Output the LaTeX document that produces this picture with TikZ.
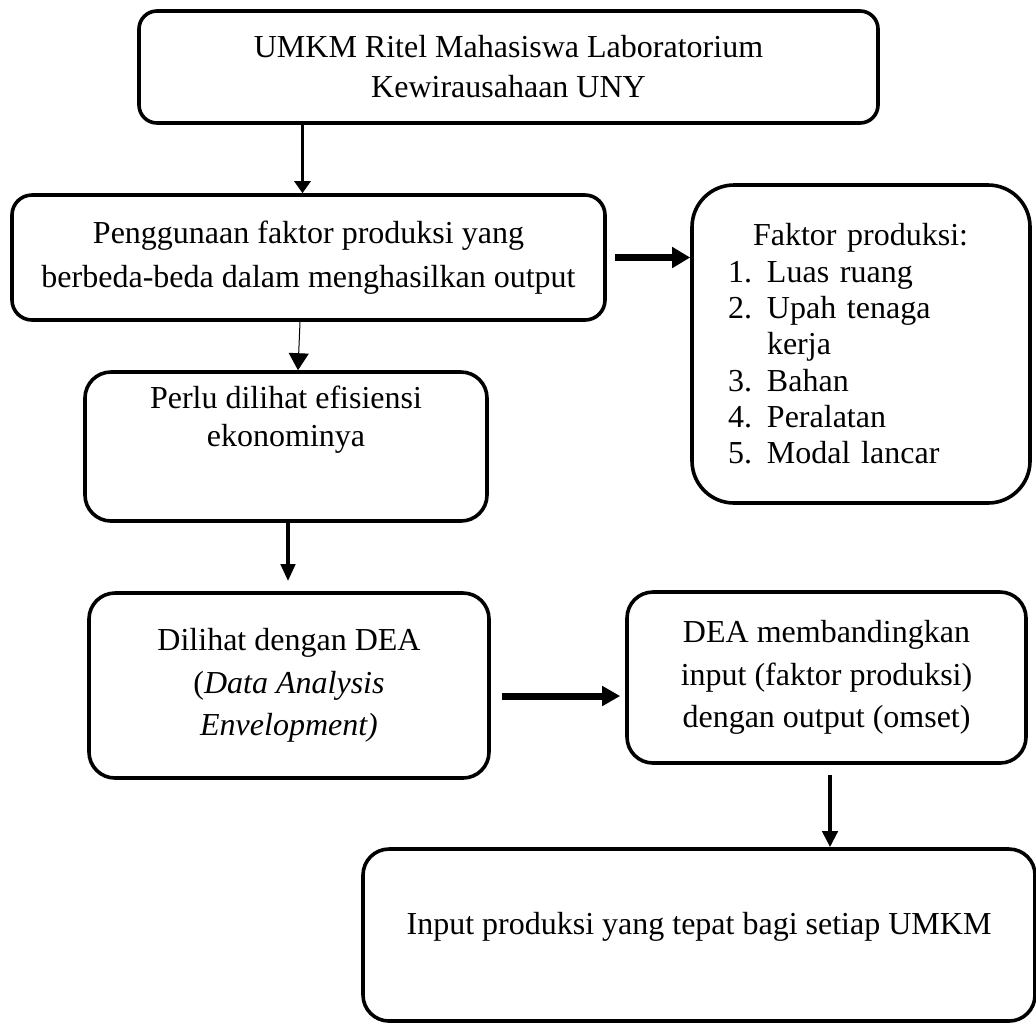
\documentclass[tikz,border=0pt]{standalone}
\usepackage{fontspec}
\setmainfont{Liberation Serif}
\usetikzlibrary{arrows.meta}

\begin{document}
\begin{tikzpicture}[x=0.5pt, y=0.5pt,
    box/.style={draw, black, line width=1.8pt, rounded corners=13pt, align=center, inner sep=0pt},
    flow/.style={black, line width=2pt, -{Triangle[length=8pt, width=7.5pt]}},
    bigflow/.style={black, line width=3.5pt, -{Triangle[length=9pt, width=10pt]}}]
                \useasboundingbox (0,0) rectangle (1036,-1023);
                \node[box, rounded corners=9pt, minimum width=369.5pt, minimum height=56pt, font=\fontsize{16}{20}\selectfont] (b1) at (508.5,-67) {UMKM Ritel Mahasiswa Laboratorium\\Kewirausahaan UNY};
                \node[box, rounded corners=10pt, minimum width=296.5pt, minimum height=62.5pt, font=\fontsize{16}{22}\selectfont, below of=b1, xshift=-100pt, yshift=-66.8pt] (b2) {Penggunaan faktor produksi yang\\berbeda-beda dalam menghasilkan output};
                \node[box, rounded corners=21pt, align=left, text width=133pt, inner xsep=18pt, minimum height=159pt, font=\fontsize{16}{18.15}\selectfont, right of=b2, xshift=247.8pt, yshift=-43.25pt] (b3) {\hspace*{12.5pt}Faktor produksi:\\\makebox[19.5pt][l]{1.}Luas ruang\\\makebox[19.5pt][l]{2.}Upah tenaga\\\hspace*{19.5pt}kerja\\\makebox[19.5pt][l]{3.}Bahan\\\makebox[19.5pt][l]{4.}Peralatan\\\makebox[19.5pt][l]{5.}Modal lancar};
                \node[box, minimum width=201pt, minimum height=74.5pt, font=\fontsize{16}{19}\selectfont, below of=b2, xshift=-11.25pt, yshift=-66.05pt] (b4) {Perlu dilihat efisiensi\\ekonominya\\[11pt]\mbox{}};
                \node[box, minimum width=200pt, minimum height=92.5pt, font=\fontsize{16}{21.25}\selectfont, below of=b4, xshift=1.5pt, yshift=-91.05pt] (b5) {Dilihat dengan DEA\\(\textit{Data Analysis}\\\textit{Envelopment)}};
                \node[box, minimum width=199.5pt, minimum height=85.5pt, font=\fontsize{16}{21.25}\selectfont, right of=b5, xshift=240.3pt, yshift=4pt] (b6) {DEA membandingkan\\input (faktor produksi)\\dengan output (omset)};
                \node[box, minimum width=336pt, minimum height=86pt, font=\fontsize{16}{21}\selectfont, below of=b6, xshift=-63.75pt, yshift=-100.3pt] (b7) {Input produksi yang tepat bagi setiap UMKM\\[-9pt]\mbox{}};
                \draw[flow, line width=1.5pt, -{Triangle[length=6pt, width=8pt]}] ([xshift=-3pt]b2.north |- b1.south) -- ([xshift=-3pt]b2.north);
                \draw[black, line width=0.5pt, -{Triangle[length=8.5pt, width=10pt]}] ([xshift=-4.25pt]b2.south) -- ([xshift=6pt]b4.north);
                \draw[bigflow, shorten <=4pt] (b2.east) -- (b2.east -| b3.west);
                \draw[flow, -{Triangle[length=8.5pt, width=7pt]}, shorten >=5pt] ([xshift=1pt]b4.south) -- ([xshift=1pt]b4.south |- b5.north);
                \draw[bigflow, -{Triangle[length=9pt, width=9.5pt]}, shorten <=5.5pt, shorten >=2.5pt] ([yshift=-5.25pt]b5.east) -- ([yshift=-5.25pt]b5.east -| b6.west);
                \draw[flow, shorten <=5pt] ([xshift=1.75pt]b6.south) -- ([xshift=1.75pt]b6.south |- b7.north);
\end{tikzpicture}
\end{document}
